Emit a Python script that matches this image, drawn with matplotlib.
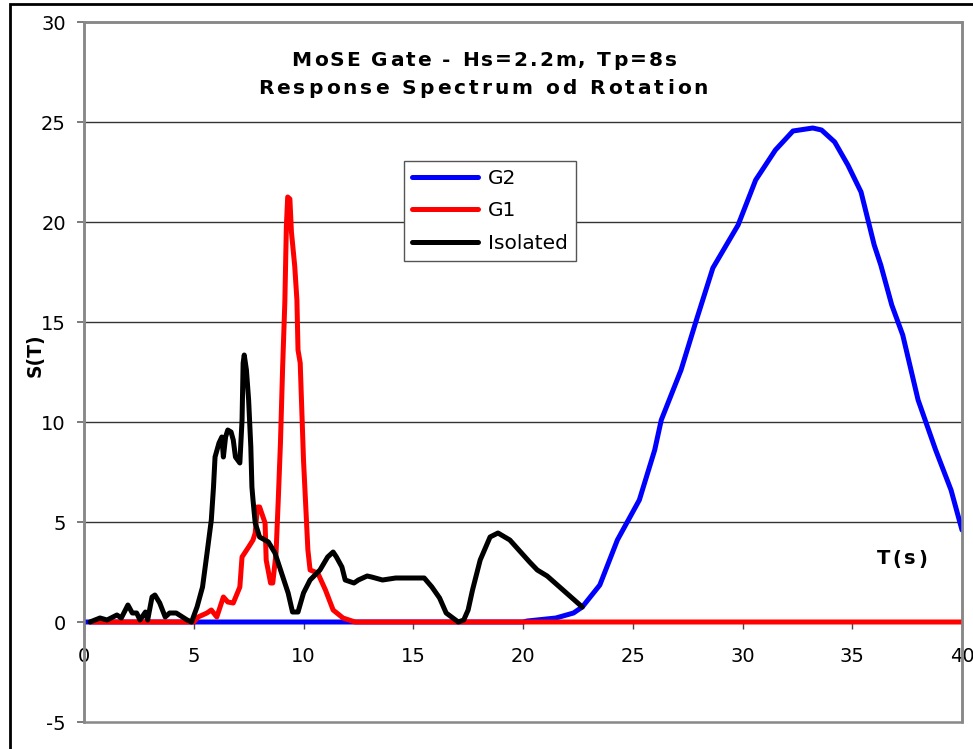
import numpy as np
import matplotlib
matplotlib.use("Agg")
import matplotlib.pyplot as plt
from matplotlib.patches import Rectangle
from matplotlib.font_manager import FontProperties

plt.rcParams["font.family"] = ["DejaVu Sans"]

# G2 response spectrum
g2_t = [0, 5, 10, 15, 20, 20.2, 21.5, 22.3, 22.7, 23.5, 24.3, 25.3, 26.0,
        26.3, 27.2, 27.9, 28.65, 29.8, 30.6, 31.5, 32.3, 33.2, 33.6, 34.2, 34.8,
        35.4, 36.0, 36.3, 36.8, 37.3, 38.0, 38.8, 39.5, 40.0]
g2_s = [0, 0, 0, 0, 0, 0.05, 0.2, 0.45, 0.75, 1.85, 4.1, 6.1, 8.6,
        10.1, 12.6, 15.1, 17.7, 19.85, 22.1, 23.6, 24.55, 24.7, 24.6, 24.0, 22.85,
        21.5, 18.85, 17.85, 15.85, 14.35, 11.1, 8.6, 6.6, 4.6]

# G1 response spectrum
g1_t = [0.3, 2.0, 4.0, 5.0, 5.2, 5.6, 5.8, 6.05, 6.35, 6.55, 6.8, 7.1, 7.2, 7.5, 7.7,
        7.8, 7.9, 8.0, 8.25, 8.3, 8.5, 8.6, 8.75, 8.85, 8.95, 9.05, 9.15, 9.22, 9.28,
        9.38, 9.45, 9.6, 9.7, 9.75, 9.85, 10.0, 10.2, 10.3, 10.65, 11.0, 11.35, 11.8,
        12.35, 15, 20, 25, 30, 35, 40]
g1_s = [0, 0, 0, 0, 0.25, 0.45, 0.6, 0.25, 1.25, 1.0, 0.95, 1.75, 3.25, 3.75, 4.1,
        4.45, 5.75, 5.75, 4.95, 3.1, 1.95, 1.95, 3.45, 6.1, 8.95, 12.75, 16.0, 19.8, 21.25,
        21.15, 19.5, 17.8, 16.1, 13.6, 12.95, 8.1, 3.6, 2.6, 2.45, 1.6, 0.6, 0.2,
        0, 0, 0, 0, 0, 0, 0]

# Isolated gate response spectrum
iso_t = [0.27, 0.73, 1.05, 1.5, 1.7, 2.0, 2.2, 2.4, 2.55, 2.8, 2.9, 3.1, 3.23, 3.45,
         3.7, 3.9, 4.2, 4.7, 4.9, 5.15, 5.4, 5.6, 5.8, 5.9, 5.97, 6.15, 6.28, 6.35,
         6.45, 6.55, 6.7, 6.8, 6.9, 7.1, 7.2, 7.25, 7.3, 7.4, 7.5, 7.6, 7.65, 7.7,
         7.8, 8.0, 8.4, 8.7, 9.0, 9.3, 9.5, 9.75, 10.0, 10.3, 10.75, 11.1, 11.35,
         11.5, 11.75, 11.9, 12.3, 12.5, 12.9, 13.1, 13.6, 14.2, 15.5, 15.85, 16.2,
         16.5, 17.05, 17.3, 17.5, 17.7, 18.05, 18.5, 18.86, 19.4, 20.3, 20.65,
         21.1, 22.7]
iso_s = [0, 0.2, 0.1, 0.35, 0.2, 0.85, 0.45, 0.45, 0.1, 0.5, 0.1, 1.25, 1.35, 0.95,
         0.25, 0.45, 0.45, 0.1, 0, 0.75, 1.75, 3.4, 5.1, 6.75, 8.25, 8.95, 9.25, 8.25,
         9.25, 9.6, 9.5, 9.1, 8.25, 7.95, 10.1, 12.95, 13.35, 12.6, 11.1, 8.75, 6.75, 6.1,
         4.95, 4.25, 4.0, 3.45, 2.45, 1.45, 0.5, 0.5, 1.45, 2.1, 2.6, 3.25, 3.5,
         3.25, 2.75, 2.1, 1.95, 2.1, 2.3, 2.25, 2.1, 2.2, 2.2, 1.75, 1.2,
         0.45, 0, 0.1, 0.6, 1.6, 3.1, 4.25, 4.45, 4.1, 3.0, 2.6,
         2.3, 0.75]

x_ticks = [0, 5, 10, 15, 20, 25, 30, 35, 40]
y_ticks = [-5, 0, 5, 10, 15, 20, 25, 30]

W, H = 973, 749
fig = plt.figure(figsize=(W / 100, H / 100), dpi=100)
ax = fig.add_axes([84 / W, (H - 722) / H, (962 - 84) / W, (722 - 22) / H])

lw = 3.6
ax.plot(g2_t, g2_s, color="#0000FF", lw=lw, label="G2", solid_joinstyle="round",
        solid_capstyle="round", zorder=3)
ax.plot(g1_t, g1_s, color="#FF0000", lw=lw, label="G1", solid_joinstyle="round",
        solid_capstyle="round", zorder=4)
ax.plot(iso_t, iso_s, color="black", lw=lw, label="Isolated", solid_joinstyle="round",
        solid_capstyle="round", zorder=5)

ax.set_xlim(0, 40)
ax.set_ylim(-5, 30)
ax.set_xticks(x_ticks)
ax.set_yticks(y_ticks)
ax.set_yticklabels([f"{v}" for v in y_ticks])
for v in [5, 10, 15, 20, 25]:
    ax.axhline(v, color="#333333", lw=1, zorder=1)

for side in ["top", "right", "left"]:
    ax.spines[side].set_color("#888888")
    ax.spines[side].set_linewidth(1.8)
ax.spines["bottom"].set_position(("data", 0))
ax.spines["bottom"].set_color("#666666")
ax.spines["bottom"].set_linewidth(1.2)
ax.add_patch(Rectangle((0, 0), 1, 1, transform=ax.transAxes, fill=False,
                       ec="#888888", lw=1.8, zorder=6, clip_on=False))

ax.tick_params(axis="x", direction="out", length=5, width=1, color="#444444",
               labelsize=14, pad=13)
ax.tick_params(axis="y", direction="out", length=5, width=1.2, color="#666666",
               labelsize=14, pad=8)

leg = ax.legend(loc="upper left", bbox_to_anchor=(404 / W, 1 - 161 / H),
                bbox_transform=fig.transFigure, borderaxespad=0, fontsize=14.5,
                handlelength=3.3, handletextpad=0.5, labelspacing=0.68,
                fancybox=False, framealpha=1, edgecolor="#555555", borderpad=0.38)
leg.get_frame().set_linewidth(1)


def tracked_text(x_px, y_px, s, width_px, size, **kw):
    """Draw centred bold text glyph by glyph, spread to fill width_px pixels."""
    prop = FontProperties(family="DejaVu Sans", weight="bold", size=size)
    renderer = fig.canvas.get_renderer()
    widths = [renderer.get_text_width_height_descent(c, prop, ismath=False)[0] for c in s]
    track = (width_px - sum(widths)) / (len(s) - 1)
    x = x_px - width_px / 2
    for c, w in zip(s, widths):
        fig.text(x / W, 1 - y_px / H, c, fontproperties=prop, ha="left", va="center", **kw)
        x += w + track


tracked_text(484, 60, "MoSE Gate - Hs=2.2m, Tp=8s", 385, 14.5)
tracked_text(483, 88, "Response Spectrum od Rotation", 450, 14.5)
tracked_text(902, 559, "T(s)", 51, 14)
fig.text(35 / W, 1 - 355 / H, "S(T)", fontsize=13.5, fontweight="bold",
         rotation=90, ha="center", va="center")

fig.patches.append(Rectangle((10 / W, -1), 2, 1 - 4 / H + 1, transform=fig.transFigure,
                             fill=False, ec="black", lw=2))

fig.savefig("out.png", dpi=100)
